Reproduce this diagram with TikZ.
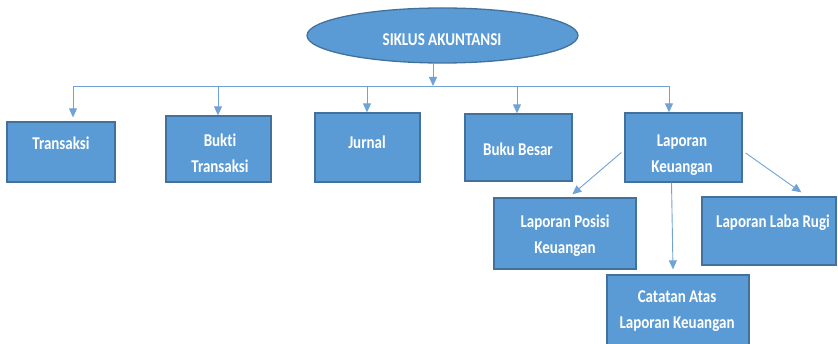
\documentclass[tikz,border=0pt]{standalone}
\usepackage{fontspec}
\setmainfont{Carlito}[RawFeature=-liga]
\usetikzlibrary{shapes.geometric,arrows.meta}
\definecolor{boxfill}{HTML}{5B9BD5}
\definecolor{boxline}{HTML}{41719C}
\definecolor{conn}{HTML}{6FA3D8}
\tikzset{
  box/.style={draw=boxline, fill=boxfill, line width=1.3pt, inner sep=0pt},
  lbl/.style={text=white, font=\bfseries\fontsize{15}{22}\selectfont, align=center, inner sep=0pt, yscale=1.2, transform shape},
  arr/.style={draw=conn, line width=0.9pt, -{Triangle[length=9pt,width=8pt]}},
  bus/.style={draw=conn, line width=0.9pt}
}
\begin{document}
\begin{tikzpicture}[x=1pt,y=1pt]
\useasboundingbox (0,0) rectangle (838,-344);
% top ellipse
\node[box, ellipse, minimum width=271pt, minimum height=55pt] (ell) at (442.5,-35.5) {};
\node[lbl] (elll) at (442,-40) {SIKLUS AKUNTANSI};
% boxes
\node[box, minimum width=108pt, minimum height=60pt] (t1) at (61,-152) {};
\node[box, minimum width=105pt, minimum height=66pt] (t2) at (218.5,-149) {};
\node[box, minimum width=105pt, minimum height=69pt] (t3) at (367.5,-147.5) {};
\node[box, minimum width=107pt, minimum height=67pt] (t4) at (518.5,-147.5) {};
\node[box, minimum width=117pt, minimum height=69pt] (lk) at (683.5,-147.5) {};
\node[box, minimum width=142pt, minimum height=71pt] (lp) at (565,-233.5) {};
\node[box, minimum width=134pt, minimum height=68pt] (lr) at (769,-231) {};
\node[box, minimum width=142pt, minimum height=80pt] (ca) at (678,-315) {};
% labels
\node[lbl] (t1l) at (61,-143) {Transaksi};
\node[lbl] (t2l) at (220,-153) {Bukti\\Transaksi};
\node[lbl] (t3l) at (367,-142) {Jurnal};
\node[lbl] (t4l) at (518,-149) {Buku Besar};
\node[lbl] (lkl) at (682,-155) {Laporan\\Keuangan};
\node[lbl] (lpl) at (565,-236) {Laporan Posisi\\Keuangan};
\node[lbl] (lrl) at (773,-223) {Laporan Laba Rugi};
\node[lbl] (cal) at (677,-311) {Catatan Atas\\Laporan Keuangan};
% bus
\coordinate (b0) at (433,-86);
\coordinate (b1) at (73,-86);
\coordinate (b2) at (218,-86);
\coordinate (b3) at (367,-86);
\coordinate (b4) at (517,-86);
\coordinate (b5) at (669,-86);
\draw[arr] ([xshift=-9.5pt]ell.south) -- (b0);
\draw[bus] (b1) -- (b5);
\draw[arr] (b1) -- ([yshift=4pt]b1 |- t1.north);
\draw[arr] (b2) -- (b2 |- t2.north);
\draw[arr] (b3) -- (b3 |- t3.north);
\draw[arr] (b4) -- (b4 |- t4.north);
\draw[arr] (b5) -- (b5 |- lk.north);
% from Laporan Keuangan
\draw[arr] ([shift={(-3pt,-5pt)}]lk.west) -- ([shift={(79pt,3pt)}]lp.north west);
\draw[arr] ([xshift=-12pt]lk.south) -- ([shift={(-5pt,5pt)}]ca.north);
\draw[arr] ([shift={(3pt,-5.5pt)}]lk.east) -- ([shift={(100pt,4pt)}]lr.north west);
\end{tikzpicture}
\end{document}
